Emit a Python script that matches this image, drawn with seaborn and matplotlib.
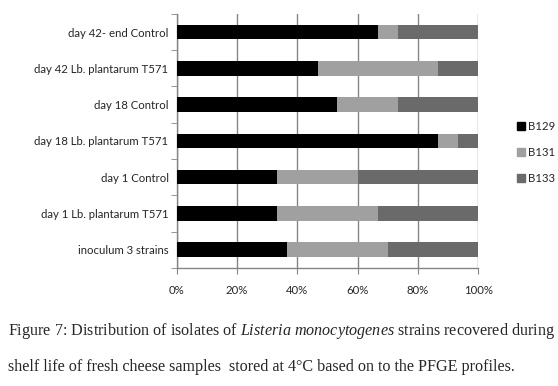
import numpy as np
import pandas as pd
import seaborn as sns
import matplotlib.pyplot as plt
from matplotlib.ticker import FixedLocator, PercentFormatter

samples = ["day 42- end Control", "day 42 Lb. plantarum T571", "day 18 Control",
           "day 18 Lb. plantarum T571", "day 1 Control", "day 1 Lb. plantarum T571",
           "inoculum 3 strains"]
b129 = [66.7, 46.7, 53.3, 86.7, 33.3, 33.3, 36.7]
b131 = [6.7, 40.0, 20.0, 6.7, 26.7, 33.3, 33.3]
b133 = [26.6, 13.3, 26.7, 6.6, 40.0, 33.4, 30.0]
strains = ["B129", "B131", "B133"]
colors = ["#000000", "#a0a0a0", "#6a6a6a"]

df = pd.DataFrame({"sample": samples, "B129": b129, "B131": b131, "B133": b133})
# cumulative ends, drawn from the back so the stacks overlap correctly
df["c1"] = df["B129"]
df["c2"] = df["B129"] + df["B131"]
df["c3"] = df["c2"] + df["B133"]

sns.set_style("white")
plt.rcParams["mathtext.fontset"] = "custom"
plt.rcParams["mathtext.rm"] = "Liberation Serif"
plt.rcParams["mathtext.it"] = "Liberation Serif:italic"

fig = plt.figure(figsize=(5.58, 3.86), dpi=100)
ax = fig.add_axes([0.317, 0.306, 0.54, 0.658])

for col, c in zip(["c3", "c2", "c1"], colors[::-1]):
    sns.barplot(data=df, x=col, y="sample", color=c, width=0.4,
                saturation=1, ax=ax, linewidth=0, zorder=3)

ax.set_xlim(0, 100)
ax.set_ylim(len(samples) - 0.5, -0.5)
ax.xaxis.set_major_locator(FixedLocator([0, 20, 40, 60, 80, 100]))
ax.xaxis.set_major_formatter(PercentFormatter(decimals=0))
ax.grid(axis="x", color="#858585", linewidth=1, zorder=0)
ax.set_axisbelow(True)
ax.set_xlabel("")
ax.set_ylabel("")

for s in ["top", "right"]:
    ax.spines[s].set_visible(False)
for s in ["left", "bottom"]:
    ax.spines[s].set_color("#858585")
    ax.spines[s].set_linewidth(1)

ax.yaxis.set_minor_locator(FixedLocator(np.arange(-0.5, len(samples), 1)))
ax.tick_params(axis="y", which="major", length=0, labelsize=8.2, pad=6)
ax.tick_params(axis="y", which="minor", length=4, color="#858585", left=True)
ax.tick_params(axis="x", which="major", length=4, color="#858585", labelsize=8.2,
               bottom=True, pad=8)
for lab in ax.get_yticklabels() + ax.get_xticklabels():
    lab.set_fontfamily("Lato")

handles = [plt.Line2D([], [], marker="s", linestyle="", color=c, markersize=6)
           for c in colors]
fig.legend(handles, strains, loc="center left", bbox_to_anchor=(0.905, 0.605),
           frameon=False, prop={"family": "Lato", "size": 8.2}, handletextpad=0.1,
           labelspacing=1.3, handlelength=1)

fig.text(0.014, 0.143, "Figure 7: Distribution of isolates of $\\mathit{Listeria\\ monocytogenes}$ "
         "strains recovered during", family="Liberation Serif", fontsize=11.6,
         va="center", ha="left")
fig.text(0.014, 0.05, "shelf life of fresh cheese samples  stored at 4°C based on to the PFGE profiles.",
         family="Liberation Serif", fontsize=11.6, va="center", ha="left")

fig.savefig("out.png", dpi=100)
